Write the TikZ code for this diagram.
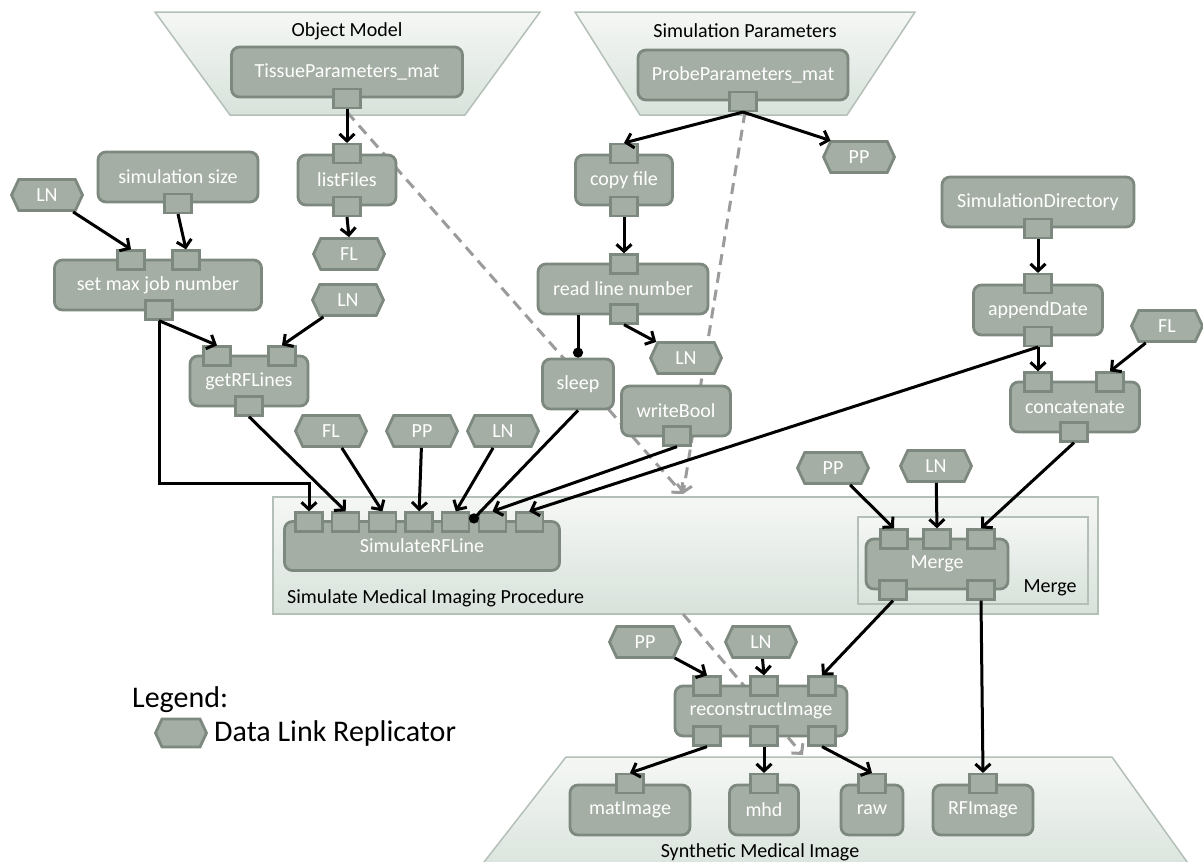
\documentclass[tikz,border=0pt]{standalone}
\usepackage{fontspec}
\setmainfont{Carlito}
\usetikzlibrary{arrows.meta,positioning,shapes.symbols,calc}

\definecolor{taskfill}{RGB}{164,174,164}
\definecolor{taskline}{RGB}{125,136,126}
\definecolor{grouptop}{RGB}{245,247,245}
\definecolor{groupbot}{RGB}{216,226,219}
\definecolor{groupline}{RGB}{180,192,183}
\definecolor{ctrlgray}{RGB}{155,155,155}

\tikzset{
  task/.style={draw=taskline, line width=2.8pt, fill=taskfill, rounded corners=8pt,
    text=white, font=\fontsize{20}{24}\selectfont, minimum height=50pt, inner sep=0pt},
  port/.style={draw=taskline, line width=2.3pt, fill=taskfill, rounded corners=0pt,
    minimum width=27pt, minimum height=19pt, inner sep=0pt},
  replicator/.style={signal, signal to=east and west, signal pointer angle=130,
    draw=taskline, line width=2.8pt, fill=taskfill, text=white,
    font=\fontsize{20}{24}\selectfont, minimum width=71pt, minimum height=31pt, inner sep=0pt},
  groupbox/.style={draw=groupline, line width=1.5pt, top color=grouptop, bottom color=groupbot},
  grouplabel/.style={font=\fontsize{20}{24}\selectfont, text=black, inner sep=0pt},
  link/.style={line width=3pt, -{Straight Barb[length=7pt,width=15pt]}},
  trigger/.style={line width=3pt, -{Circle[length=10pt]}},
  ctrl/.style={ctrlgray, line width=3pt, dash pattern=on 11pt off 7pt,
    -{Straight Barb[length=7pt,width=15pt]}},
}

\begin{document}
\begin{tikzpicture}[x=1pt, y=-1pt]
  \useasboundingbox (0,0) rectangle (1203,862);

  % groups
  \path[groupbox] (155,12) -- (540,12) -- (465,115) -- (230,115) -- cycle;
  \node[grouplabel] (om-l) at (347,31) {Object Model};
  \coordinate (om-b) at (347,112);
  \path[groupbox] (575,12) -- (915,12) -- (847,115) -- (640,115) -- cycle;
  \node[grouplabel] (sp-l) at (745,31) {Simulation Parameters};
  \coordinate (sp-b) at (745,112);
  \path[groupbox] (566,757) -- (1112,757) -- (1200,880) -- (470,880) -- cycle;
  \node[grouplabel] (smi-l) at (760,852) {Synthetic Medical Image};
  \coordinate (smi-t) at (803,755);

  \node[groupbox, minimum width=825pt, minimum height=117pt] (smip) at (685.5,555.5) {};
  \node[grouplabel, anchor=west] (smip-l) at (287,598) {Simulate Medical Imaging Procedure};
  \node[groupbox, minimum width=230pt, minimum height=87pt] (mergebox) at (973,560.5) {};
  \node[grouplabel] (mergebox-l) at (1050,588) {Merge};
  \coordinate (smip-in) at (683,494);
  \coordinate (smip-out) at (683,614);

  % control flow
  \draw[ctrl] (om-b) -- (smip-in);
  \draw[ctrl] (sp-b) -- (smip-in);
  \draw[ctrl] (smip-out) -- (smi-t);

  % tasks
  \node[task, minimum width=231pt] (tpm) at (347,72) {TissueParameters\_mat};
  \node[port] (tpm-o) at (tpm.south) {};
  \node[task, minimum width=210pt] (ppm) at (743,75) {ProbeParameters\_mat};
  \node[port] (ppm-o) at (ppm.south) {};

  \node[task, minimum width=98pt] (lf) at (347,180) {listFiles};
  \node[port] (lf-i) at (lf.north) {};
  \node[port] (lf-o) at (lf.south) {};
  \node[replicator] (fl1) at (349,254) {FL};

  \node[replicator] (ln1) at (47,195) {LN};
  \node[task, minimum width=160pt] (simsize) at (178,177) {simulation size};
  \node[port] (simsize-o) at (simsize.south) {};
  \node[task, minimum width=207pt] (maxjob) at (158,285) {set max job number};
  \node[port] (maxjob-i1) at (131,260) {};
  \node[port] (maxjob-i2) at (186,260) {};
  \node[port] (maxjob-o) at (159,310) {};

  \node[replicator] (ln2) at (348,300) {LN};
  \node[task, minimum width=118pt] (rfl) at (249,381) {getRFLines};
  \node[port] (rfl-i1) at (217,356) {};
  \node[port] (rfl-i2) at (282,356) {};
  \node[port] (rfl-o) at (249,406) {};

  \node[replicator] (fl2) at (331,431) {FL};
  \node[replicator] (pp2) at (422,431) {PP};
  \node[replicator] (ln3) at (503,431) {LN};

  \node[task, minimum width=97pt] (copyf) at (624,180) {copy file};
  \node[port] (copyf-i) at (copyf.north) {};
  \node[port] (copyf-o) at (copyf.south) {};
  \node[replicator] (pp1) at (859,157) {PP};
  \node[task, minimum width=170pt] (readln) at (623,289) {read line number};
  \node[port] (readln-i) at (624,264) {};
  \node[port] (readln-o) at (624,314) {};
  \node[replicator] (ln4) at (686,358) {LN};
  \node[task, minimum width=71pt] (sleep) at (578,384) {sleep};
  \node[task, minimum width=109pt] (wbool) at (676,411) {writeBool};
  \node[port] (wbool-o) at (677,436) {};

  \node[task, minimum width=192pt] (simdir) at (1038,202) {SimulationDirectory};
  \node[port] (simdir-o) at (simdir.south) {};
  \node[task, minimum width=129pt] (appdate) at (1038,310) {appendDate};
  \node[port] (appdate-i) at (appdate.north) {};
  \node[port] (appdate-o) at (appdate.south) {};
  \node[replicator] (fl3) at (1167,326) {FL};
  \node[task, minimum width=129pt] (concat) at (1075,407) {concatenate};
  \node[port] (concat-i1) at (1038,382) {};
  \node[port] (concat-i2) at (1110,382) {};
  \node[port] (concat-o) at (1074,432) {};

  \node[task, minimum width=275pt, minimum height=49pt] (simrf) at (422,546) {SimulateRFLine};
  \foreach \i in {1,...,7}
    \node[port] (simrf-\i) at (309+36.7*\i-36.7,522) {};

  \node[replicator] (pp3) at (833,468) {PP};
  \node[replicator] (ln5) at (936,466) {LN};
  \node[task, minimum width=142pt] (merge) at (937,564) {Merge};
  \node[port] (merge-i1) at (894,539) {};
  \node[port] (merge-i2) at (937,539) {};
  \node[port] (merge-i3) at (981,539) {};
  \node[port] (merge-o1) at (893,590) {};
  \node[port] (merge-o2) at (981,590) {};

  \node[replicator] (pp4) at (645,642) {PP};
  \node[replicator] (ln6) at (761,642) {LN};
  \node[task, minimum width=172pt] (recon) at (761,711) {reconstructImage};
  \node[port] (recon-i1) at (707,686) {};
  \node[port] (recon-i2) at (764,686) {};
  \node[port] (recon-i3) at (822,686) {};
  \node[port] (recon-o1) at (707,736) {};
  \node[port] (recon-o2) at (764,736) {};
  \node[port] (recon-o3) at (822,736) {};

  \node[task, minimum width=120pt] (matimg) at (630,810) {matImage};
  \node[port] (matimg-i) at (matimg.north) {};
  \node[task, minimum width=69pt] (mhd) at (764,810) {mhd};
  \node[port] (mhd-i) at (mhd.north) {};
  \node[task, minimum width=62pt] (raw) at (872,810) {raw};
  \node[port] (raw-i) at (raw.north) {};
  \node[task, minimum width=100pt] (rfimg) at (983,810) {RFImage};
  \node[port] (rfimg-i) at (rfimg.north) {};

  % legend
  \node[anchor=west, font=\fontsize{30}{36}\selectfont, inner sep=0pt] (legend) at (132,700) {Legend:};
  \node[replicator, minimum width=51pt, minimum height=28pt] (legend-r) at (181,733) {};
  \node[anchor=west, font=\fontsize{30}{36}\selectfont, inner sep=0pt] (legend-t) at (214,733) {Data Link Replicator};

  % data flow
  \draw[link] (tpm-o.south) -- (lf-i.north);
  \draw[link] (lf-o.south) -- (fl1.north);
  \draw[link] (ppm-o.south) -- (copyf-i.north);
  \draw[link] (ppm-o.south) -- (pp1.150);
  \draw[link] (ln1) -- (maxjob-i1.north);
  \draw[link] (simsize-o.south) -- (maxjob-i2.north);
  \draw[link] (maxjob-o.south) -- (rfl-i1.north);
  \draw[link] (maxjob-o.south) |- ([yshift=28pt]simrf-1.north) -- (simrf-1.north);
  \draw[link] (ln2) -- (rfl-i2.north);
  \draw[link] (rfl-o.south) -- (simrf-2.north);
  \draw[link] (fl2) -- (simrf-3.north);
  \draw[link] (pp2) -- (simrf-4.north);
  \draw[link] (ln3) -- (simrf-5.north);
  \draw[link] (copyf-o.south) -- (readln-i.north);
  \draw[link] (readln-o.south) -- (ln4);
  \draw[trigger] (readln.south -| sleep.north) -- (sleep.north);
  \draw[trigger] (sleep.south) -- (simrf-5.east);
  \draw[link] (wbool-o.south) -- (simrf-6.north);
  \draw[link] (simdir-o.south) -- (appdate-i.north);
  \draw[link] (appdate-o.south) -- (simrf-7.north);
  \draw[link] (appdate-o.south) -- (concat-i1.north);
  \draw[link] (fl3) -- (concat-i2.north);
  \draw[link] (concat-o.south) -- (merge-i3.north);
  \draw[link] (pp3) -- (merge-i1.north);
  \draw[link] (ln5) -- (merge-i2.north);
  \draw[link] (merge-o1.south) -- (recon-i3.north);
  \draw[link] (merge-o2.south) -- (rfimg-i.north);
  \draw[link] (pp4) -- (recon-i1.north);
  \draw[link] (ln6) -- (recon-i2.north);
  \draw[link] (recon-o1.south) -- (matimg-i.north);
  \draw[link] (recon-o2.south) -- (mhd-i.north);
  \draw[link] (recon-o3.south) -- (raw-i.north);
\end{tikzpicture}
\end{document}
